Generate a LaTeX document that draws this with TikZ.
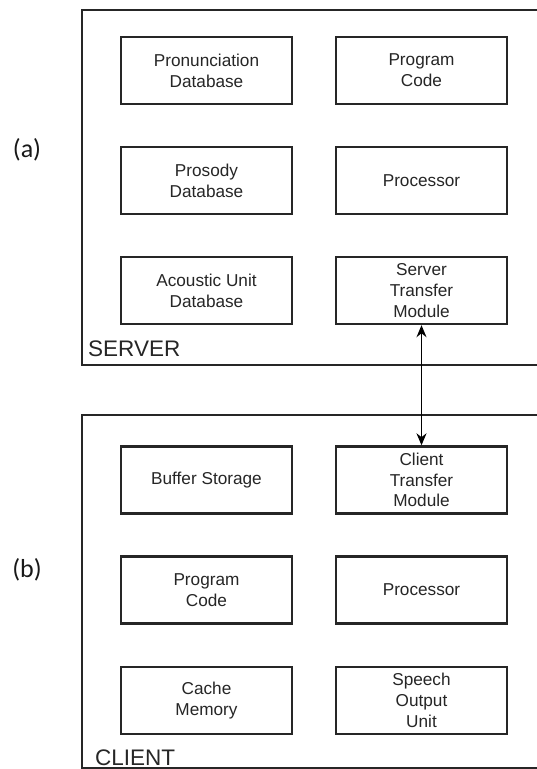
\documentclass[tikz,border=0pt]{standalone}
\usepackage{fontspec}
\setmainfont{Liberation Sans}
\newfontfamily\labelfont{Carlito}
\usetikzlibrary{arrows.meta}
\begin{document}
\begin{tikzpicture}[x=1pt,y=-1pt,
  unitbox/.style={draw=black!85, line width=2.4pt, minimum width=171pt, minimum height=67pt,
    inner sep=0pt, align=center, text=black!85,
    font=\fontsize{17.2}{20.8}\selectfont},
  frame/.style={draw=black!85, line width=2.2pt},
  framelabel/.style={anchor=base west, inner sep=0pt, text=black!85,
    font=\fontsize{22.5}{26}\selectfont},
  partlabel/.style={inner sep=0pt, text=black!90, font=\labelfont\fontsize{26}{30}\selectfont},
  link/.style={draw=black, line width=1.4pt, {Stealth[length=12pt,width=10pt]}-{Stealth[length=12pt,width=10pt]}}]
\useasboundingbox (0,0) rectangle (537,769);
\fill[white] (0,0) rectangle (537,769);

% outer frames (their right sides run past the page edge)
\draw[frame] (560,10) -- (82,10) -- (82,365) -- (560,365);
\draw[frame] (560,415) -- (82,415) -- (82,768) -- (560,768);

\node[framelabel] (srvlbl) at (88,356) {SERVER};
\node[framelabel] (clilbl) at (95,765) {CLIENT};

\node[partlabel] (pa) at (27,150) {(a)};
\node[partlabel] (pb) at (27,570) {(b)};

% server units
\node[unitbox] (pron) at (206.5,70.5) {Pronunciation\\Database};
\node[unitbox] (scode) at (421.5,70.5) {Program\\Code};
\node[unitbox] (pros) at (206.5,180.5) {Prosody\\Database};
\node[unitbox] (sproc) at (421.5,180.5) {Processor};
\node[unitbox] (acou) at (206.5,290.5) {Acoustic Unit\\Database};
\node[unitbox] (stm) at (421.5,290.5) {Server\\Transfer\\Module};

% client units
\node[unitbox] (buf) at (206.5,480) {Buffer Storage};
\node[unitbox] (ctm) at (421.5,480) {Client\\Transfer\\Module};
\node[unitbox] (ccode) at (206.5,590) {Program\\Code};
\node[unitbox] (cproc) at (421.5,590) {Processor};
\node[unitbox] (cache) at (206.5,700.5) {Cache\\Memory};
\node[unitbox] (spk) at (421.5,700.5) {Speech\\Output\\Unit};

\draw[link] (stm.south) -- (ctm.north);
\end{tikzpicture}
\end{document}
